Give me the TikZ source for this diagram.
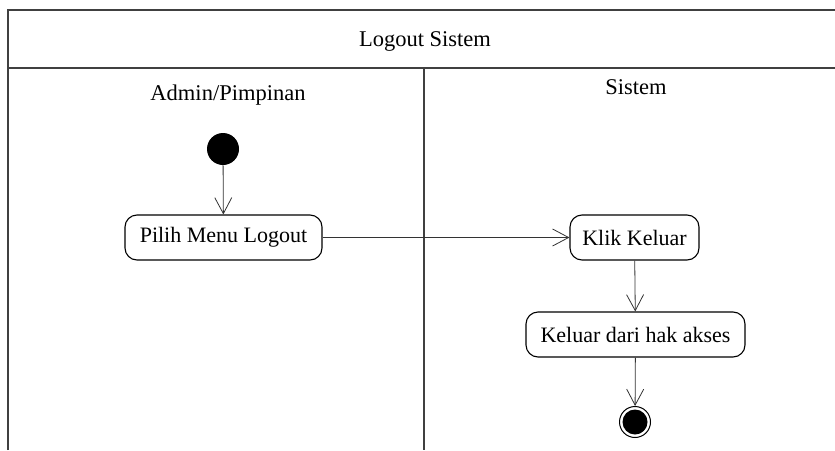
\documentclass[tikz,border=0pt]{standalone}
\usepackage{fontspec}
\setmainfont{Liberation Serif}
\usetikzlibrary{arrows.meta}
\begin{document}
\begin{tikzpicture}[x=1pt,y=-1pt,
  lane/.style={draw=black!75, line width=1.6pt},
  action/.style={draw, rounded corners=12pt, line width=1.1pt, minimum height=45pt,
    inner xsep=6pt, font=\fontsize{22}{24}\selectfont, anchor=center},
  flow/.style={draw=black!80, line width=0.8pt, -{Straight Barb[length=16pt,width=17pt,line width=0.8pt]}},
  title/.style={font=\fontsize{22.5}{24}\selectfont}
]
\useasboundingbox (0,0) rectangle (835,450);
\fill[white] (0,0) rectangle (835,450);

% swimlane frame
\draw[lane] (8,450) -- (8,10) -- (840,10);
\draw[lane] (8,68) -- (840,68);
\draw[lane] (424,68) -- (424,450);

\node[title] (hdr) at (425,41) {Logout Sistem};
\node[title] (laneA) at (228,95) {Admin/Pimpinan};
\node[title] (laneB) at (636,87) {Sistem};

% start node
\node[circle, fill=black, minimum size=32pt, inner sep=0pt] (start) at (223,149) {};

% actions
\node[action, minimum width=197pt] (pilih) at (223.5,237.5) {Pilih Menu Logout};
\node[action, minimum width=129pt] (klik) at (634.5,237.5) {Klik Keluar};
\node[action, minimum width=219pt] (keluar) at (635.5,334.5) {Keluar dari hak akses};

% final node
\node[circle, draw, line width=1pt, minimum size=31pt, inner sep=0pt] (end) at (635,422) {};
\fill (end.center) circle (12.5pt);

% transitions
\draw[flow] (start) -- (pilih);
\draw[flow] (pilih) -- (klik);
\draw[flow] (klik) -- (keluar);
\draw[flow] (keluar) -- (end);
\end{tikzpicture}
\end{document}
